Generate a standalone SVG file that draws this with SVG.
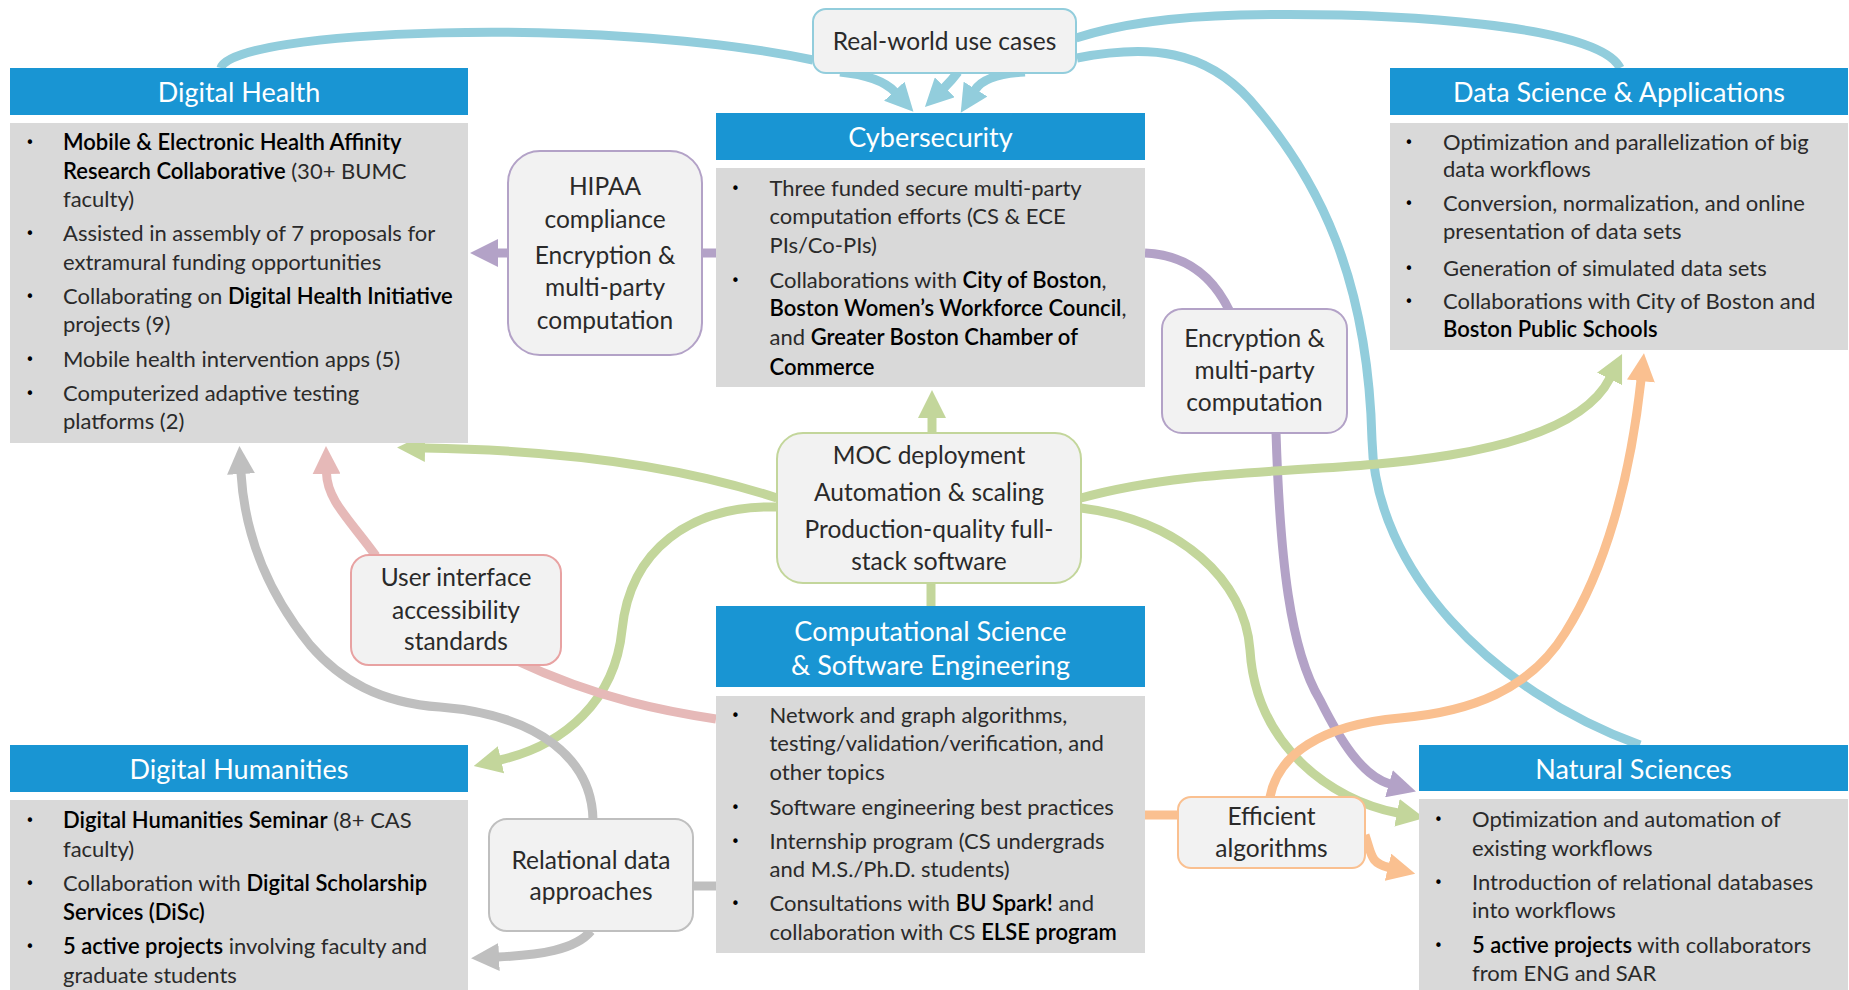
<svg xmlns="http://www.w3.org/2000/svg" width="1849" height="990" viewBox="0 0 1849 990">
<style>
.hdr{fill:#1995D3}
.bd{fill:#D9D9D9}
.lb{fill:#F2F2F2;stroke-width:2}
.ht{font-family:Lato,"Open Sans",sans-serif;font-size:27px;fill:#fff;text-anchor:middle}
.bt{font-family:Lato,"Open Sans",sans-serif;font-size:22px;fill:#2a2a2a;font-weight:400}
.bu{font-family:"DejaVu Sans",sans-serif;font-size:15px;fill:#000;text-anchor:middle}
.b{font-weight:600;fill:#000}
.lt{font-family:Lato,"Open Sans",sans-serif;font-size:24.5px;fill:#2a2a2a;font-weight:400;text-anchor:middle}
.c{fill:none;stroke-width:9}
.blue{stroke:#92CDDC}.purple{stroke:#B3A2C7}.green{stroke:#C3D69B}.pink{stroke:#E6B9B8}.gray{stroke:#BFBFBF}.orange{stroke:#FAC090}
</style>
<defs>
<marker id="mBlue" markerUnits="userSpaceOnUse" markerWidth="28" markerHeight="28" viewBox="0 0 27 27" refX="1" refY="13.5" orient="auto"><path d="M0,0 L27,13.5 L0,27 Z" fill="#92CDDC"/></marker>
<marker id="mPurple" markerUnits="userSpaceOnUse" markerWidth="28" markerHeight="28" viewBox="0 0 27 27" refX="1" refY="13.5" orient="auto"><path d="M0,0 L27,13.5 L0,27 Z" fill="#B3A2C7"/></marker>
<marker id="mGreen" markerUnits="userSpaceOnUse" markerWidth="28" markerHeight="28" viewBox="0 0 27 27" refX="1" refY="13.5" orient="auto"><path d="M0,0 L27,13.5 L0,27 Z" fill="#C3D69B"/></marker>
<marker id="mPink" markerUnits="userSpaceOnUse" markerWidth="28" markerHeight="28" viewBox="0 0 27 27" refX="1" refY="13.5" orient="auto"><path d="M0,0 L27,13.5 L0,27 Z" fill="#E6B9B8"/></marker>
<marker id="mGray" markerUnits="userSpaceOnUse" markerWidth="28" markerHeight="28" viewBox="0 0 27 27" refX="1" refY="13.5" orient="auto"><path d="M0,0 L27,13.5 L0,27 Z" fill="#BFBFBF"/></marker>
<marker id="mOrange" markerUnits="userSpaceOnUse" markerWidth="28" markerHeight="28" viewBox="0 0 27 27" refX="1" refY="13.5" orient="auto"><path d="M0,0 L27,13.5 L0,27 Z" fill="#FAC090"/></marker>
</defs>
<rect width="1849" height="990" fill="#fff"/>

<g id="connectors">
  <!-- blue: real-world use cases -->
  <path class="c blue" stroke-width="8" d="M221,68 C230,30 600,15 813,60"/>
  <path class="c blue" stroke-width="8" d="M1620,68 C1600,25 1400,12 1240,15 C1160,17 1110,27 1076,38"/>
  <path class="c blue" stroke-width="8" d="M1077,58 C1150,44 1205,50 1250,100 C1320,180 1368,280 1372,440 C1375,570 1490,690 1640,745"/>
  <path class="c blue" d="M840,72 Q880,76 895,92" marker-end="url(#mBlue)"/>
  <path class="c blue" d="M958,72 Q952,80 944,88" marker-end="url(#mBlue)"/>
  <path class="c blue" d="M1025,72 Q985,74 975,90" marker-end="url(#mBlue)"/>
  <!-- purple: encryption -->
  <path class="c purple" d="M716,253 L497,253" marker-end="url(#mPurple)"/>
  <path class="c purple" d="M1145,253 C1190,255 1215,280 1230,312"/>
  <path class="c purple" d="M1276,432 C1280,560 1290,650 1320,700 C1340,740 1362,776 1390,784" marker-end="url(#mPurple)"/>
  <!-- green: MOC -->
  <path class="c green" d="M932,434 L932,417" marker-end="url(#mGreen)"/>
  <path class="c green" stroke-width="11" d="M931,582 L931,607"/>
  <path class="c green" d="M777,498 C680,466 560,450 424,448" marker-end="url(#mGreen)"/>
  <path class="c green" d="M777,507 C690,505 630,550 622,630 C615,700 565,745 500,760" marker-end="url(#mGreen)"/>
  <path class="c green" d="M1081,498 C1200,465 1330,475 1450,455 C1540,440 1592,414 1610,378" marker-end="url(#mGreen)"/>
  <path class="c green" d="M1081,508 C1180,520 1245,580 1250,650 C1256,745 1330,800 1398,813" marker-end="url(#mGreen)"/>
  <!-- pink: UI -->
  <path class="c pink" d="M716,719 C670,712 600,700 515,660"/>
  <path class="c pink" d="M376,556 C350,520 327,500 326.5,473" marker-end="url(#mPink)"/>
  <!-- gray: relational -->
  <path class="c gray" d="M593,820 C592,760 540,715 440,707 C380,703 340,680 310,645 C270,595 245,540 241,473" marker-end="url(#mGray)"/>
  <path class="c gray" d="M591,931 C575,950 540,955 498,957" marker-end="url(#mGray)"/>
  <path class="c gray" d="M716,886 L690,886"/>
  <!-- orange: efficient algorithms -->
  <path class="c orange" d="M1145,815 L1180,815"/>
  <path class="c orange" d="M1365,835 C1372,855 1370,863 1389,867.5" marker-end="url(#mOrange)"/>
  <path class="c orange" d="M1270,797 C1278,755 1320,725 1400,718 C1470,712 1530,690 1565,633 C1605,570 1630,480 1641,380" marker-end="url(#mOrange)"/>
</g>

<g id="digital-health">
  <rect class="hdr" x="10" y="68" width="458" height="47"/>
  <text class="ht" x="239" y="102">Digital Health</text>
  <rect class="bd" x="10" y="123" width="458" height="320"/>
  <text class="bu" x="30" y="148">•</text>
  <text class="bt" x="63" y="150"><tspan class="b">Mobile &amp; Electronic Health Affinity</tspan></text>
  <text class="bt" x="63" y="178.5"><tspan class="b">Research Collaborative</tspan> (30+ BUMC</text>
  <text class="bt" x="63" y="207">faculty)</text>
  <text class="bu" x="30" y="239">•</text>
  <text class="bt" x="63" y="241">Assisted in assembly of 7 proposals for</text>
  <text class="bt" x="63" y="269.5">extramural funding opportunities</text>
  <text class="bu" x="30" y="301.5">•</text>
  <text class="bt" x="63" y="303.5">Collaborating on <tspan class="b">Digital Health Initiative</tspan></text>
  <text class="bt" x="63" y="332">projects (9)</text>
  <text class="bu" x="30" y="364.5">•</text>
  <text class="bt" x="63" y="366.5">Mobile health intervention apps (5)</text>
  <text class="bu" x="30" y="398.5">•</text>
  <text class="bt" x="63" y="400.5">Computerized adaptive testing</text>
  <text class="bt" x="63" y="429">platforms (2)</text>
</g>

<g id="cybersecurity">
  <rect class="hdr" x="716" y="113" width="429" height="47"/>
  <text class="ht" x="930.5" y="147">Cybersecurity</text>
  <rect class="bd" x="716" y="168" width="429" height="219"/>
  <text class="bu" x="735.5" y="193.5">•</text>
  <text class="bt" x="769.5" y="195.5">Three funded secure multi-party</text>
  <text class="bt" x="769.5" y="224">computation efforts (CS &amp; ECE</text>
  <text class="bt" x="769.5" y="253">PIs/Co-PIs)</text>
  <text class="bu" x="735.5" y="285.5">•</text>
  <text class="bt" x="769.5" y="287.5">Collaborations with <tspan class="b">City of Boston</tspan>,</text>
  <text class="bt" x="769.5" y="316"><tspan class="b">Boston Women’s Workforce Council</tspan>,</text>
  <text class="bt" x="769.5" y="345">and <tspan class="b">Greater Boston Chamber of</tspan></text>
  <text class="bt" x="769.5" y="374.5"><tspan class="b">Commerce</tspan></text>
</g>

<g id="data-science">
  <rect class="hdr" x="1390" y="68" width="458" height="47"/>
  <text class="ht" x="1619" y="102">Data Science &amp; Applications</text>
  <rect class="bd" x="1390" y="123" width="458" height="227"/>
  <text class="bu" x="1409" y="147.5">•</text>
  <text class="bt" x="1443" y="149.5">Optimization and parallelization of big</text>
  <text class="bt" x="1443" y="177">data workflows</text>
  <text class="bu" x="1409" y="209">•</text>
  <text class="bt" x="1443" y="211">Conversion, normalization, and online</text>
  <text class="bt" x="1443" y="239">presentation of data sets</text>
  <text class="bu" x="1409" y="273.5">•</text>
  <text class="bt" x="1443" y="275.5">Generation of simulated data sets</text>
  <text class="bu" x="1409" y="306.5">•</text>
  <text class="bt" x="1443" y="308.5">Collaborations with City of Boston and</text>
  <text class="bt" x="1443" y="337"><tspan class="b">Boston Public Schools</tspan></text>
</g>

<g id="comp-science">
  <rect class="hdr" x="716" y="606" width="429" height="81"/>
  <text class="ht" x="930.5" y="641">Computational Science</text>
  <text class="ht" x="930.5" y="675">&amp; Software Engineering</text>
  <rect class="bd" x="716" y="696" width="429" height="257"/>
  <text class="bu" x="735.5" y="720.5">•</text>
  <text class="bt" x="769.5" y="722.5">Network and graph algorithms,</text>
  <text class="bt" x="769.5" y="751">testing/validation/verification, and</text>
  <text class="bt" x="769.5" y="780">other topics</text>
  <text class="bu" x="735.5" y="812.5">•</text>
  <text class="bt" x="769.5" y="814.5">Software engineering best practices</text>
  <text class="bu" x="735.5" y="846.5">•</text>
  <text class="bt" x="769.5" y="848.5">Internship program (CS undergrads</text>
  <text class="bt" x="769.5" y="877">and M.S./Ph.D. students)</text>
  <text class="bu" x="735.5" y="909">•</text>
  <text class="bt" x="769.5" y="911">Consultations with <tspan class="b">BU Spark!</tspan> and</text>
  <text class="bt" x="769.5" y="939.5">collaboration with CS <tspan class="b">ELSE program</tspan></text>
</g>

<g id="digital-humanities">
  <rect class="hdr" x="10" y="745" width="458" height="47"/>
  <text class="ht" x="239" y="779">Digital Humanities</text>
  <rect class="bd" x="10" y="800" width="458" height="190"/>
  <text class="bu" x="30" y="825.5">•</text>
  <text class="bt" x="63" y="827.5"><tspan class="b">Digital Humanities Seminar</tspan> (8+ CAS</text>
  <text class="bt" x="63" y="857">faculty)</text>
  <text class="bu" x="30" y="889">•</text>
  <text class="bt" x="63" y="891">Collaboration with <tspan class="b">Digital Scholarship</tspan></text>
  <text class="bt" x="63" y="920"><tspan class="b">Services (DiSc)</tspan></text>
  <text class="bu" x="30" y="952">•</text>
  <text class="bt" x="63" y="954"><tspan class="b">5 active projects</tspan> involving faculty and</text>
  <text class="bt" x="63" y="983">graduate students</text>
</g>

<g id="natural-sciences">
  <rect class="hdr" x="1419" y="745" width="429" height="46"/>
  <text class="ht" x="1633.5" y="779">Natural Sciences</text>
  <rect class="bd" x="1419" y="799" width="429" height="191"/>
  <text class="bu" x="1438.5" y="825">•</text>
  <text class="bt" x="1472" y="827">Optimization and automation of</text>
  <text class="bt" x="1472" y="855.5">existing workflows</text>
  <text class="bu" x="1438.5" y="887.5">•</text>
  <text class="bt" x="1472" y="889.5">Introduction of relational databases</text>
  <text class="bt" x="1472" y="918">into workflows</text>
  <text class="bu" x="1438.5" y="951">•</text>
  <text class="bt" x="1472" y="953"><tspan class="b">5 active projects</tspan> with collaborators</text>
  <text class="bt" x="1472" y="981">from ENG and SAR</text>
</g>

<g id="real-world">
  <rect class="lb" x="813" y="9" width="263" height="64" rx="13" stroke="#92CDDC"/>
  <text class="lt" x="944.5" y="50">Real-world use cases</text>
</g>

<g id="hipaa">
  <rect class="lb" x="508" y="151" width="194" height="204" rx="32" stroke="#B3A2C7"/>
  <text class="lt" x="605" y="195">HIPAA</text>
  <text class="lt" x="605" y="228">compliance</text>
  <text class="lt" x="605" y="264">Encryption &amp;</text>
  <text class="lt" x="605" y="296">multi-party</text>
  <text class="lt" x="605" y="329">computation</text>
</g>

<g id="encryption">
  <rect class="lb" x="1162" y="309" width="185" height="124" rx="20" stroke="#B3A2C7"/>
  <text class="lt" x="1254.5" y="347">Encryption &amp;</text>
  <text class="lt" x="1254.5" y="379">multi-party</text>
  <text class="lt" x="1254.5" y="411">computation</text>
</g>

<g id="moc">
  <rect class="lb" x="777" y="433" width="304" height="150" rx="26" stroke="#C3D69B"/>
  <text class="lt" x="929" y="464">MOC deployment</text>
  <text class="lt" x="929" y="501">Automation &amp; scaling</text>
  <text class="lt" x="929" y="538">Production-quality full-</text>
  <text class="lt" x="929" y="570">stack software</text>
</g>

<g id="ui-accessibility">
  <rect class="lb" x="351" y="555" width="210" height="110" rx="18" stroke="#E8A2A2"/>
  <text class="lt" x="456" y="586">User interface</text>
  <text class="lt" x="456" y="618.5">accessibility</text>
  <text class="lt" x="456" y="650">standards</text>
</g>

<g id="relational">
  <rect class="lb" x="489" y="819" width="204" height="112" rx="18" stroke="#BFBFBF"/>
  <text class="lt" x="591" y="868.5">Relational data</text>
  <text class="lt" x="591" y="900">approaches</text>
</g>

<g id="efficient">
  <rect class="lb" x="1178" y="797" width="187" height="71" rx="13" stroke="#FAC090"/>
  <text class="lt" x="1271.5" y="824.5">Efficient</text>
  <text class="lt" x="1271.5" y="856.5">algorithms</text>
</g>
</svg>
